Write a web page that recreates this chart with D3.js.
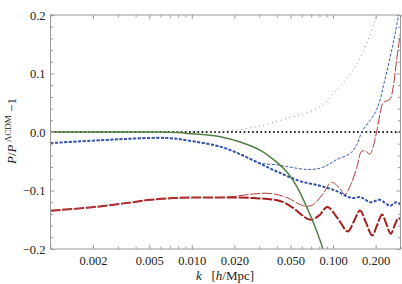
<!DOCTYPE html>
<html>
<head>
<meta charset="utf-8">
<script src="https://cdn.jsdelivr.net/npm/d3@7"></script>
<style>
  body { margin: 0; background: #fff; }
  svg { display: block; }
</style>
</head>
<body>
<div id="chart"></div>
<script>
const width = 402, height = 284;
const margin = { left: 50.5, right: 1.5, top: 15, bottom: 35 };
const serif = "'Liberation Serif', 'DejaVu Serif', serif";

// tick values
const xMajor = [0.002, 0.005, 0.01, 0.02, 0.05, 0.1, 0.2];
const xMinor = [0.001, 0.003, 0.004, 0.006, 0.007, 0.008, 0.009,
  0.03, 0.04, 0.06, 0.07, 0.08, 0.09, 0.3];
const yMajor = [-0.2, -0.1, 0.0, 0.1, 0.2];
const yMinor = [-0.18, -0.16, -0.14, -0.12, -0.08, -0.06, -0.04, -0.02,
  0.02, 0.04, 0.06, 0.08, 0.12, 0.14, 0.16, 0.18];

// series: [k, P/P_LCDM - 1]
const zeroLine = [[0.001, 0], [0.3, 0]];

const greenSolid = [[0.001, 0], [0.005, 0], [0.008, -0.001], [0.01, -0.003],
  [0.0159, -0.008], [0.022, -0.017], [0.0304, -0.031], [0.041, -0.054],
  [0.047, -0.068], [0.0553, -0.093], [0.065, -0.128], [0.0745, -0.162],
  [0.0808, -0.185], [0.0848, -0.2], [0.088, -0.215]];

const grayDotted = [[0.01, 0.0], [0.0159, 0.001], [0.0273, 0.008], [0.047, 0.023],
  [0.0808, 0.043], [0.106, 0.072], [0.139, 0.106], [0.173, 0.152],
  [0.198, 0.19], [0.212, 0.21]];

const blueThick = [[0.001, -0.019], [0.0019, -0.015], [0.0033, -0.012], [0.0057, -0.010],
  [0.0074, -0.011], [0.0103, -0.016], [0.0159, -0.025], [0.022, -0.038],
  [0.0304, -0.054], [0.0421, -0.070], [0.0584, -0.084], [0.0808, -0.092],
  [0.106, -0.101], [0.1247, -0.110], [0.139, -0.113], [0.155, -0.111],
  [0.168, -0.115], [0.1823, -0.120], [0.198, -0.118], [0.2145, -0.116],
  [0.233, -0.121], [0.2524, -0.126], [0.2814, -0.120], [0.3, -0.124]];

const blueThin = [[0.001, -0.019], [0.0019, -0.015], [0.0033, -0.012], [0.0057, -0.010],
  [0.0074, -0.011], [0.0103, -0.016], [0.0159, -0.025], [0.022, -0.038],
  [0.0304, -0.053], [0.0399, -0.056], [0.047, -0.059], [0.065, -0.064],
  [0.0808, -0.062], [0.0937, -0.055], [0.106, -0.047], [0.1316, -0.037],
  [0.1468, -0.022], [0.16, 0.0], [0.2032, 0.038], [0.2327, 0.09],
  [0.2663, 0.152], [0.2888, 0.196], [0.295, 0.21]];

const redThick = [[0.001, -0.1345], [0.0019, -0.129], [0.0033, -0.122], [0.0051, -0.116],
  [0.0074, -0.113], [0.0103, -0.112], [0.0159, -0.112], [0.0273, -0.113],
  [0.0421, -0.118], [0.0523, -0.130], [0.061, -0.143], [0.069, -0.150],
  [0.0795, -0.143], [0.091, -0.128], [0.108, -0.148], [0.127, -0.170],
  [0.1403, -0.153], [0.155, -0.134], [0.171, -0.155], [0.189, -0.177],
  [0.205, -0.159], [0.222, -0.141], [0.238, -0.157], [0.256, -0.174],
  [0.2725, -0.160], [0.29, -0.147], [0.3, -0.150]];

const redThin = [[0.001, -0.1345], [0.0019, -0.129], [0.0033, -0.122], [0.0051, -0.116],
  [0.0074, -0.113], [0.0103, -0.112], [0.0159, -0.112], [0.02, -0.110],
  [0.0273, -0.106], [0.0358, -0.105], [0.047, -0.112], [0.0584, -0.124],
  [0.065, -0.127], [0.0724, -0.124], [0.0853, -0.105], [0.0977, -0.086],
  [0.1119, -0.097], [0.1214, -0.107], [0.1316, -0.093], [0.1468, -0.062],
  [0.1592, -0.033], [0.17, -0.033], [0.1823, -0.038], [0.1923, -0.025],
  [0.2032, 0.0], [0.2145, 0.03], [0.2264, 0.05], [0.2524, 0.056],
  [0.2663, 0.077], [0.2814, 0.123], [0.3, 0.17]];

const svg = d3.select("#chart").append("svg")
  .attr("width", width).attr("height", height);

const x = d3.scaleLog().domain([0.001, 0.3]).range([margin.left, width - margin.right]);
const y = d3.scaleLinear().domain([-0.2, 0.2]).range([height - margin.bottom, margin.top]);

svg.append("defs").append("clipPath").attr("id", "plot")
  .append("rect")
  .attr("x", x.range()[0]).attr("y", y.range()[1])
  .attr("width", x.range()[1] - x.range()[0])
  .attr("height", y.range()[0] - y.range()[1]);

const line = d3.line()
  .x(d => x(d[0]))
  .y(d => y(d[1]))
  .curve(d3.curveCatmullRom.alpha(0.5));

const plot = svg.append("g").attr("clip-path", "url(#plot)");

function drawSeries(data, color, w, dash) {
  plot.append("path")
    .datum(data)
    .attr("fill", "none")
    .attr("stroke", color)
    .attr("stroke-width", w)
    .attr("stroke-dasharray", dash)
    .attr("d", line);
}

drawSeries(zeroLine, "#222", 1.8, "1.6,2.6");
drawSeries(grayDotted, "#888", 1, "1,3.5");
drawSeries(redThick, "#a51c1c", 2, "10,1.8");
drawSeries(redThin, "#b23a3a", 1, "10,1.8");
drawSeries(blueThick, "#2f4ea6", 2, "3,1.6");
drawSeries(blueThin, "#3a5bb5", 1, "3,1.6");
drawSeries(greenSolid, "#4f8040", 1.5, null);

// frame
const x0 = x.range()[0], x1 = x.range()[1], y0 = y.range()[0], y1 = y.range()[1];
svg.append("rect")
  .attr("x", x0).attr("y", y1)
  .attr("width", x1 - x0).attr("height", y0 - y1)
  .attr("fill", "none").attr("stroke", "#999").attr("stroke-width", 1);

// axes
const fmtX = d3.format(".3f");
const fmtY = d => (d < 0 ? "\u2212" : "") + d3.format(".1f")(Math.abs(d));

function styleAxis(g) {
  g.select(".domain").remove();
  g.selectAll(".tick line").attr("stroke", "#999");
}

svg.append("g").attr("transform", `translate(0,${y0})`)
  .call(d3.axisBottom(x).tickValues(xMajor).tickFormat(fmtX).tickSizeInner(-4).tickPadding(7))
  .call(styleAxis);
svg.append("g").attr("transform", `translate(0,${y0})`)
  .call(d3.axisBottom(x).tickValues(xMinor).tickFormat("").tickSizeInner(-2.5))
  .call(styleAxis);
svg.append("g").attr("transform", `translate(0,${y1})`)
  .call(d3.axisTop(x).tickValues(xMajor).tickFormat("").tickSizeInner(-4))
  .call(styleAxis);
svg.append("g").attr("transform", `translate(0,${y1})`)
  .call(d3.axisTop(x).tickValues(xMinor).tickFormat("").tickSizeInner(-2.5))
  .call(styleAxis);

svg.append("g").attr("transform", `translate(${x0},0)`)
  .call(d3.axisLeft(y).tickValues(yMajor).tickFormat(fmtY).tickSizeInner(-4).tickPadding(5))
  .call(styleAxis);
svg.append("g").attr("transform", `translate(${x0},0)`)
  .call(d3.axisLeft(y).tickValues(yMinor).tickFormat("").tickSizeInner(-2.5))
  .call(styleAxis);
svg.append("g").attr("transform", `translate(${x1},0)`)
  .call(d3.axisRight(y).tickValues(yMajor).tickFormat("").tickSizeInner(-4))
  .call(styleAxis);
svg.append("g").attr("transform", `translate(${x1},0)`)
  .call(d3.axisRight(y).tickValues(yMinor).tickFormat("").tickSizeInner(-2.5))
  .call(styleAxis);

svg.selectAll(".tick text")
  .style("font-family", serif)
  .style("font-size", "12.5px")
  .attr("fill", "#222");

// x label
const xl = svg.append("text")
  .attr("x", 225).attr("y", 280)
  .attr("text-anchor", "middle")
  .style("font-family", serif).style("font-size", "13px")
  .attr("fill", "#222")
  .attr("xml:space", "preserve");
xl.append("tspan").attr("font-style", "italic").text("k");
xl.append("tspan").text("   [");
xl.append("tspan").attr("font-style", "italic").text("h");
xl.append("tspan").text("/Mpc]");

// y label
const yl = svg.append("text")
  .attr("transform", "translate(16,131) rotate(-90)")
  .attr("text-anchor", "middle")
  .style("font-family", serif).style("font-size", "13px")
  .attr("fill", "#222");
yl.append("tspan").attr("font-style", "italic").text("P");
yl.append("tspan").text("/");
yl.append("tspan").attr("font-style", "italic").text("P");
yl.append("tspan").style("font-size", "9px").attr("dy", -5).text(" \u039BCDM");
yl.append("tspan").attr("dy", 5).text(" \u22121");
</script>
</body>
</html>
